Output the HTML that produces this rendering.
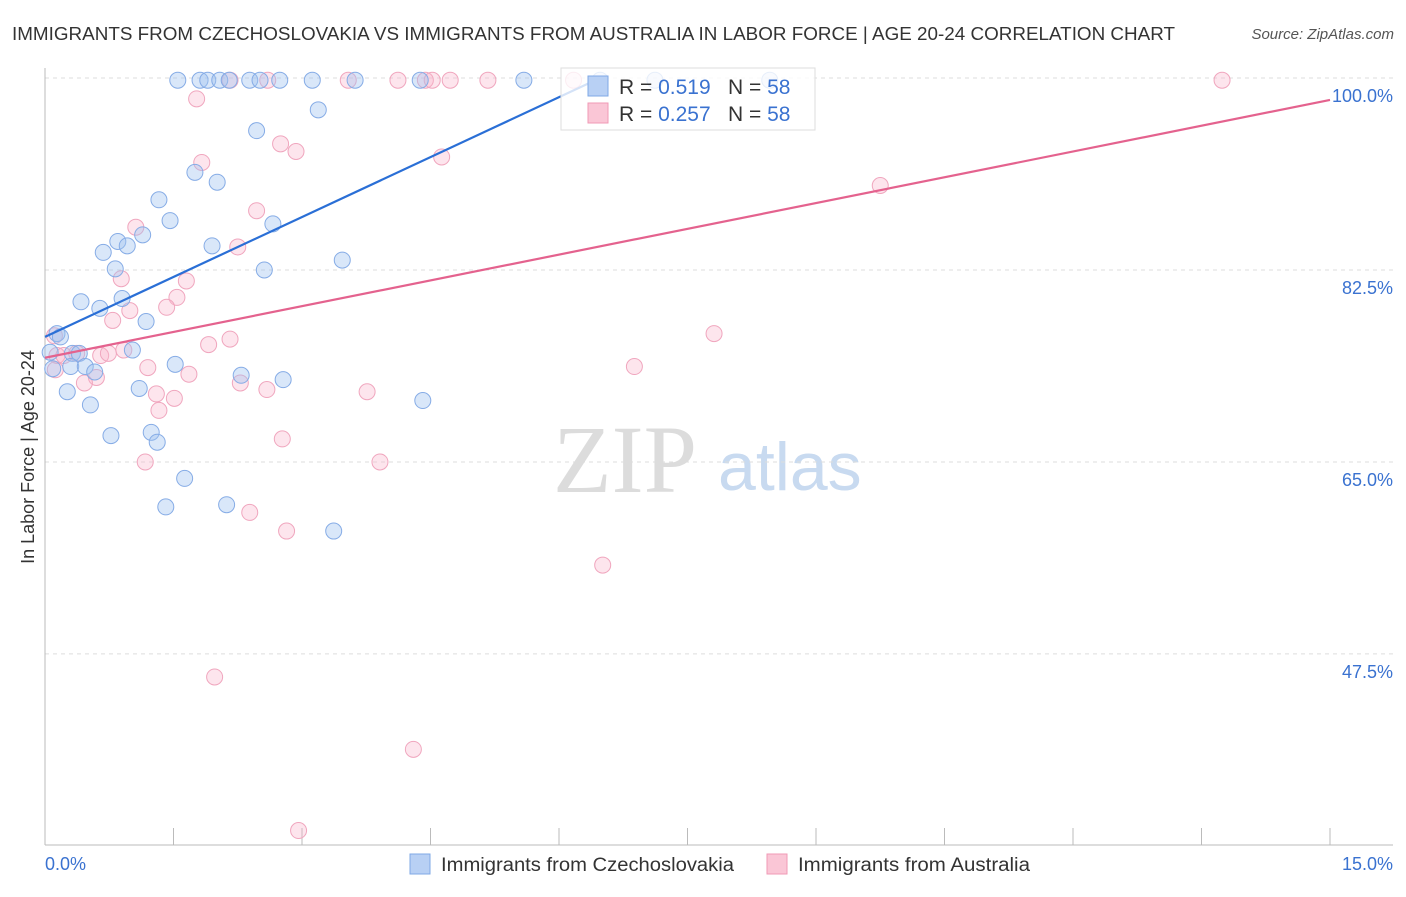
<!DOCTYPE html>
<html><head><meta charset="utf-8"><style>
body{margin:0;background:#fff;font-family:"Liberation Sans",sans-serif}
</style></head><body>
<svg id="c" width="1406" height="892" xmlns="http://www.w3.org/2000/svg" style="font-family:'Liberation Sans',sans-serif">
<text x="12" y="40" font-size="18" fill="#333" textLength="1163" lengthAdjust="spacingAndGlyphs">IMMIGRANTS FROM CZECHOSLOVAKIA VS IMMIGRANTS FROM AUSTRALIA IN LABOR FORCE | AGE 20-24 CORRELATION CHART</text>
<text x="1394" y="39" font-size="15" fill="#555" font-style="italic" text-anchor="end">Source: ZipAtlas.com</text>
<g><text x="553" y="492" font-size="96" font-family="'Liberation Serif',serif" fill="#dcdcdc">ZIP</text><text x="718" y="490" font-size="68" fill="#c8daf0">atlas</text></g>
<g id="grid"></g><g id="axes"></g><g id="pts"></g><g id="trend"></g>
<g>
<rect x="561" y="68" width="254" height="62" fill="rgba(255,255,255,0.8)" stroke="#ddd"/>
<rect x="588" y="76" width="20" height="20" fill="#b8d0f4" stroke="#7fa8e6"/>
<rect x="588" y="103" width="20" height="20" fill="#fac6d6" stroke="#f09ab6"/>
<text x="619" y="94" font-size="21" fill="#333">R = <tspan fill="#3a72d0">0.519</tspan><tspan x="728">N = </tspan><tspan fill="#3a72d0">58</tspan></text>
<text x="619" y="121" font-size="21" fill="#333">R = <tspan fill="#3a72d0">0.257</tspan><tspan x="728">N = </tspan><tspan fill="#3a72d0">58</tspan></text>
</g>
<g>
<rect x="410" y="854" width="20" height="20" fill="#b8d0f4" stroke="#7fa8e6"/>
<text x="441" y="871" font-size="19" fill="#333" textLength="293" lengthAdjust="spacingAndGlyphs">Immigrants from Czechoslovakia</text>
<rect x="767" y="854" width="20" height="20" fill="#fac6d6" stroke="#f09ab6"/>
<text x="798" y="871" font-size="19" fill="#333" textLength="232" lengthAdjust="spacingAndGlyphs">Immigrants from Australia</text>
</g>
<text x="34" y="457" font-size="18" fill="#333" transform="rotate(-90 34 457)" text-anchor="middle">In Labor Force | Age 20-24</text>
</svg>
<script>
const yTicks=[100,82.5,65,47.5];
const yTickLabels=["100.0%","82.5%","65.0%","47.5%"];
const xTickVals=[0,1.5,3,4.5,6,7.5,9,10.5,12,13.5,15];
const xLabels=["0.0%","15.0%"];
const czX=[1.55,1.81,1.90,2.04,2.15,2.39,2.51,2.74,3.12,3.62,4.38,5.59,7.12,8.46,6.48,3.19,2.47,1.75,2.01,1.33,1.46,2.66,0.85,0.68,0.96,1.95,1.14,2.56,3.47,0.82,0.42,0.90,0.64,1.18,0.14,0.18,1.02,0.32,0.40,0.09,0.30,0.47,0.58,1.52,2.29,2.78,0.26,1.10,0.53,4.41,0.77,1.24,1.31,1.63,1.41,2.12,3.37,0.06];
const czY=[99.8,99.8,99.8,99.8,99.8,99.8,99.8,99.8,99.8,99.8,99.8,99.8,99.8,99.8,99.8,97.1,95.2,91.4,90.5,88.9,87.0,86.7,85.1,84.1,84.7,84.7,85.7,82.5,83.4,82.6,79.6,79.9,79.0,77.8,76.7,76.4,75.2,74.9,74.9,73.5,73.7,73.7,73.2,73.9,72.9,72.5,71.4,71.7,70.2,70.6,67.4,67.7,66.8,63.5,60.9,61.1,58.7,75.0];
const auX=[6.17,2.16,2.60,3.54,4.12,4.44,4.52,4.73,5.17,13.74,1.77,2.75,2.93,1.83,4.63,9.75,2.47,1.06,2.25,0.89,1.65,1.54,1.42,0.99,0.79,7.81,2.16,1.91,0.11,0.14,0.22,0.37,0.65,0.74,0.92,1.20,1.68,6.88,0.60,0.46,2.28,2.59,3.76,1.30,1.51,1.33,2.77,1.17,3.91,2.39,2.82,6.51,1.98,4.30,2.96,0.12];
const auY=[99.8,99.8,99.8,99.8,99.8,99.8,99.8,99.8,99.8,99.8,98.1,94.0,93.3,92.3,92.8,90.2,87.9,86.4,84.6,81.7,81.5,80.0,79.1,78.8,77.9,76.7,76.2,75.7,76.5,74.7,74.7,74.9,74.7,74.9,75.2,73.6,73.0,73.7,72.7,72.2,72.2,71.6,71.4,71.2,70.8,69.7,67.1,65.0,65.0,60.4,58.7,55.6,45.4,38.8,31.4,73.4];
const czTrendX=[0,6.48];const czTrendY=[76.4,100];
const auTrendX=[0,15];const auTrendY=[74.5,98.0];
const X=v=>45+v*85.667, Y=v=>78+(100-v)*10.97;
const NS="http://www.w3.org/2000/svg";
function mk(t,a,p){const e=document.createElementNS(NS,t);for(const k in a)e.setAttribute(k,a[k]);p.appendChild(e);return e;}
const grid=document.getElementById('grid'),axes=document.getElementById('axes'),pts=document.getElementById('pts'),tr=document.getElementById('trend');
mk('line',{x1:45,x2:1393,y1:Y(100),y2:Y(100),stroke:'#ddd','stroke-dasharray':'4 4'},grid);
yTicks.forEach((v,i)=>{
 if(v!==100){const l=mk('line',{x1:45,x2:1393,y1:Y(v),y2:Y(v),stroke:'#ddd','stroke-dasharray':'4 4'},grid);
 
 }
 const t=mk('text',{x:1393,y:Y(v)+24,'font-size':18,fill:'#3a72d0','text-anchor':'end'},axes);t.textContent=yTickLabels[i];
 
 
});
mk('line',{x1:45,x2:45,y1:68,y2:845,stroke:'#bbb'},axes);
mk('line',{x1:45,x2:1393,y1:845,y2:845,stroke:'#bbb'},axes);
xTickVals.forEach(v=>{const l=mk('line',{x1:X(v),x2:X(v),y1:828,y2:845,stroke:'#bbb'},axes);
 
 });
const t0=mk('text',{x:45,y:870,'font-size':18,fill:'#3a72d0'},axes);t0.textContent=xLabels[0];


const t1=mk('text',{x:1393,y:870,'font-size':18,fill:'#3a72d0','text-anchor':'end'},axes);t1.textContent=xLabels[1];


auX.forEach((x,i)=>{const c=mk('circle',{cx:X(x),cy:Y(auY[i]),r:8,fill:'rgba(248,180,202,0.35)',stroke:'#f0a6be','stroke-width':1},pts);
 
 });
czX.forEach((x,i)=>{const c=mk('circle',{cx:X(x),cy:Y(czY[i]),r:8,fill:'rgba(160,195,240,0.4)',stroke:'#86ace6','stroke-width':1},pts);
 
 });
const lb=mk('line',{x1:X(czTrendX[0]),y1:Y(czTrendY[0]),x2:X(czTrendX[1]),y2:Y(czTrendY[1]),stroke:'#2a6fd6','stroke-width':2.2},tr);


const lp=mk('line',{x1:X(auTrendX[0]),y1:Y(auTrendY[0]),x2:X(auTrendX[1]),y2:Y(auTrendY[1]),stroke:'#e4628e','stroke-width':2.2},tr);


</script>
</body></html>
